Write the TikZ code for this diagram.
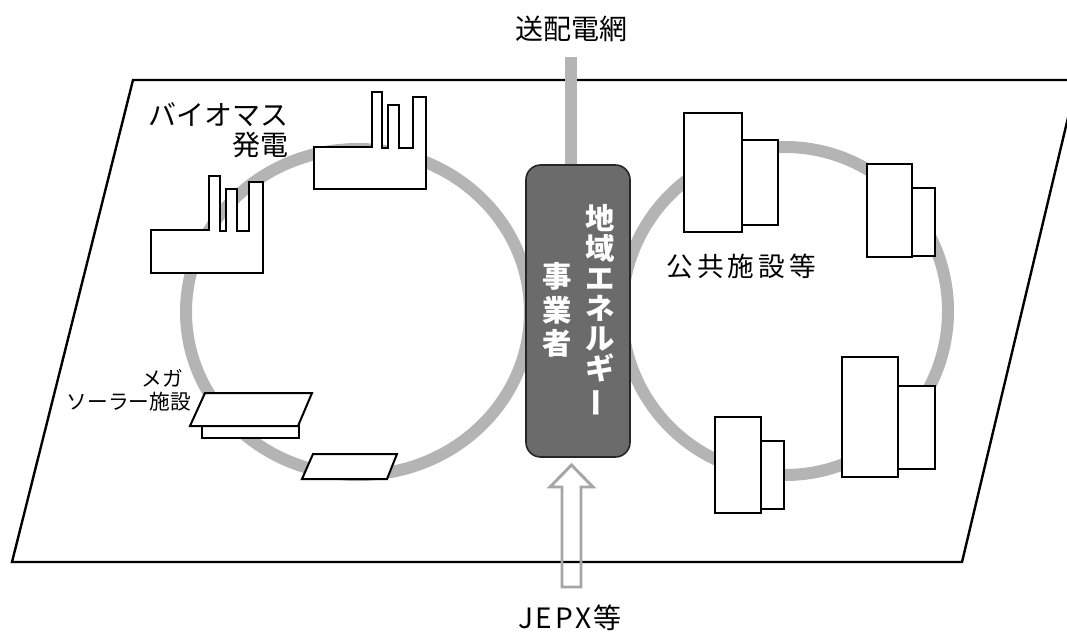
\documentclass[tikz,border=0pt]{standalone}
\usepackage{fontspec}
\usepackage{graphicx}
\setmainfont{Noto Sans CJK JP}
\definecolor{ringgray}{HTML}{B4B4B4}
\definecolor{hubgray}{HTML}{6B6B6B}
\definecolor{arrowgray}{HTML}{A6A6A6}
\begin{document}
\begin{tikzpicture}[x=0.75pt,y=-0.75pt,
  plane/.style={draw=black,line width=1.8pt,fill=white,line join=miter},
  ring/.style={draw=ringgray,line width=9pt},
  feeder/.style={draw=ringgray,line width=9pt},
  hub/.style={draw=black!85,line width=1.2pt,fill=hubgray,rounded corners=11pt,
    minimum width=78pt,minimum height=219pt,inner sep=0pt},
  hubtext/.style={text=white,align=center,inner sep=0pt},
  plant/.style={draw=black,line width=1.5pt,fill=white,line join=miter},
  bldg/.style={draw=black,line width=1.5pt,fill=white},
  panel/.style={draw=black,line width=1.5pt,fill=white,line join=miter},
  inflow/.style={draw=arrowgray,line width=2.2pt,line join=miter},
  lbl/.style={inner sep=0pt,font=\fontsize{21}{22.5}\selectfont},
  smalllbl/.style={inner sep=0pt,font=\fontsize{15.5}{17}\selectfont}
]
\useasboundingbox (0,0) rectangle (1067,632);

% ground plane, cut off at the right border
\begin{scope}
  \clip (0,0) rectangle (1067,632);
  \draw[plane] (133,80) -- (1077,80) -- (962,562) -- (12,562) -- cycle;
\end{scope}

% supply loops
\draw[ring] (358,312) ellipse [x radius=172, y radius=163];
\draw[ring] (785,311) ellipse [x radius=163, y radius=164];

% regional energy company
\node[hub] (hub) at (578,311) {};
\node[hubtext,font=\fontsize{22}{22.5}\selectfont\bfseries] (hubname) at (600,311)
  {地\\域\\エ\\ネ\\ル\\ギ\\\rotatebox[origin=c]{90}{ー}};
\node[hubtext,font=\fontsize{22}{25}\selectfont\bfseries] (hubrole) at (557,310)
  {事\\業\\者};

% transmission grid link
\node[lbl] (grid) at (571,29) {送配電網};
\coordinate (gridtap) at (571,57);
\draw[feeder] (gridtap) -- (gridtap |- hub.north);

% biomass plants
\draw[plant] (151,230) -- (209,230) -- (209,176) -- (220,176) -- (220,231) -- (226,231)
  -- (226,189) -- (237,189) -- (237,231) -- (249,231) -- (249,182) -- (263,182)
  -- (263,273) -- (151,273) -- cycle;
\draw[plant] (314,147) -- (372,147) -- (372,92) -- (382,92) -- (382,148) -- (388,148)
  -- (388,105) -- (399,105) -- (399,148) -- (413,148) -- (413,97) -- (426,97)
  -- (426,189) -- (314,189) -- cycle;
\node[lbl,align=right,anchor=east] (bio) at (289,130) {バイオマス\\発電};

% solar arrays
\draw[panel] (202,415) rectangle (299,438);
\draw[panel] (205,393) -- (312,393) -- (298,426) -- (190,426) -- cycle;
\draw[panel] (313,454) -- (397,454) -- (387,479) -- (302,479) -- cycle;
\node[smalllbl,anchor=east] (mega) at (183,378) {メガ};
\node[smalllbl,anchor=east] (solar) at (191,402) {ソーラー施設};

% public facilities
\draw[bldg] (684,113) rectangle (742,232);
\draw[bldg] (742,140) rectangle (778,225);
\draw[bldg] (867,164) rectangle (912,257);
\draw[bldg] (912,188) rectangle (935,256);
\draw[bldg] (842,357) rectangle (898,477);
\draw[bldg] (898,386) rectangle (935,469);
\draw[bldg] (715,417) rectangle (761,513);
\draw[bldg] (761,441) rectangle (784,509);
\node[lbl,font=\fontsize{20}{22}\selectfont\addfontfeatures{LetterSpace=15}] (public) at (741,266) {公共施設等};

% wholesale market supply
\node[lbl,font=\fontsize{21}{22}\selectfont\addfontfeatures{LetterSpace=10}] (jepx) at (570,618) {JEPX等};
\draw[inflow] (571.5,465) -- (593,487) -- (581,487) -- (581,587) -- (562,587)
  -- (562,487) -- (550,487) -- cycle;
\end{tikzpicture}
\end{document}
